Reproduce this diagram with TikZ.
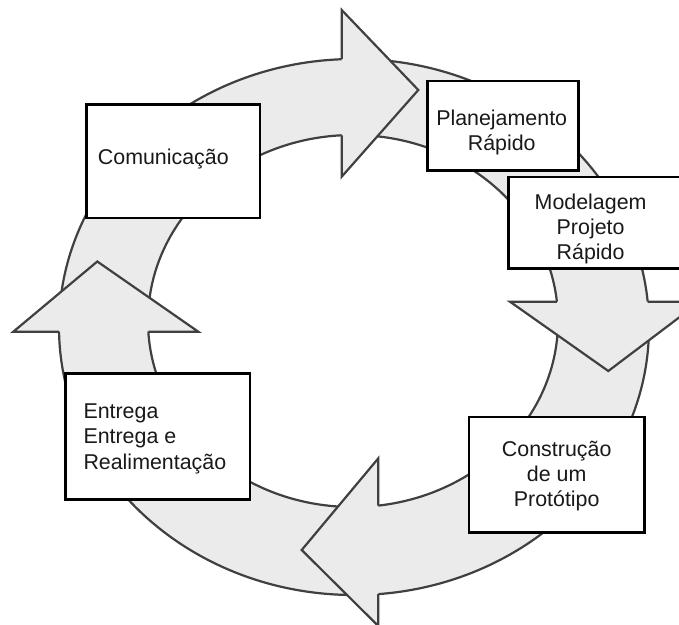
\documentclass[tikz,border=0pt]{standalone}
\usepackage{fontspec}
\setmainfont{Liberation Sans}
\begin{document}
\begin{tikzpicture}[x=1pt,y=-1pt,
  bandfill/.style={fill=black!8},
  bandline/.style={draw=black!75, line width=2.2pt},
  headline/.style={draw=black!75, line width=2.2pt, line join=miter},
  stagebox/.style={draw=black, line width=2.4pt, fill=white, rectangle, inner sep=0pt},
  lbl/.style={font=\fontsize{21.4}{25}\selectfont, inner sep=0pt, text=black!90}]
\clip (0,0) rectangle (679,624);
\fill[white] (0,0) rectangle (679,624);

% the ring band
\fill[bandfill, even odd rule]
  (354,327) ellipse [x radius=295pt, y radius=268pt]
  (353,321) ellipse [x radius=205pt, y radius=186pt];
\draw[bandline] (354,327) ellipse [x radius=295pt, y radius=268pt];
\draw[bandline] (353,321) ellipse [x radius=205pt, y radius=186pt];

% arrow heads laid over the band
% top, pointing right
\fill[bandfill] (341.7,10) -- (418.3,90) -- (341.7,176.7) -- cycle;
\draw[headline] (341.7,59.2) -- (341.7,10) -- (418.3,90) -- (341.7,176.7) -- (341.7,135.3);
% right, pointing down
\fill[bandfill] (510,301.7) -- (608.3,371) -- (700,301.7) -- cycle;
\draw[headline] (556.9,301.7) -- (510,301.7) -- (608.3,371) -- (700,301.7) -- (647.7,301.7);
% bottom, pointing left
\fill[bandfill] (378.3,458.3) -- (301.7,550) -- (378.3,626) -- cycle;
\draw[headline] (378.3,505.6) -- (378.3,458.3) -- (301.7,550) -- (378.3,626) -- (378.3,594.1);
% left, pointing up
\fill[bandfill] (13.3,331.7) -- (97.3,261.5) -- (198.3,331.7) -- cycle;
\draw[headline] (59,331.7) -- (13.3,331.7) -- (97.3,261.5) -- (198.3,331.7) -- (148.3,331.7);

% stage boxes
\node[stagebox, minimum width=173.7pt, minimum height=113.5pt] (com) at (173.15,161.05) {};
\node[stagebox, minimum width=151pt, minimum height=89.5pt] (plan) at (502.8,125.75) {};
\node[stagebox, minimum width=181.7pt, minimum height=91.6pt] (mod) at (599.15,222.5) {};
\node[stagebox, minimum width=175.3pt, minimum height=115.8pt] (cons) at (556.65,474.6) {};
\node[stagebox, minimum width=184.7pt, minimum height=126pt] (ent) at (157.85,436.3) {};

% labels
\node[lbl, anchor=base west] (comA) at (97.7,164) {Comunicação};

\node[lbl, anchor=base] (planA) at (501.7,125) {Planejamento};
\node[lbl, anchor=base] (planB) at (501.7,150) {Rápido};

\node[lbl, anchor=base] (modA) at (590.6,209.3) {Modelagem};
\node[lbl, anchor=base] (modB) at (590.6,234.5) {Projeto};
\node[lbl, anchor=base] (modC) at (590.6,259.5) {Rápido};

\node[lbl, anchor=base] (consA) at (556.7,456.7) {Construção};
\node[lbl, anchor=base] (consB) at (556.7,481.7) {de um};
\node[lbl, anchor=base] (consC) at (556.7,506.7) {Protótipo};

\node[lbl, anchor=base west] (entA) at (83.3,418.3) {Entrega};
\node[lbl, anchor=base west] (entB) at (83.3,443.3) {Entrega e};
\node[lbl, anchor=base west] (entC) at (83.3,469) {Realimentação};
\end{tikzpicture}
\end{document}
